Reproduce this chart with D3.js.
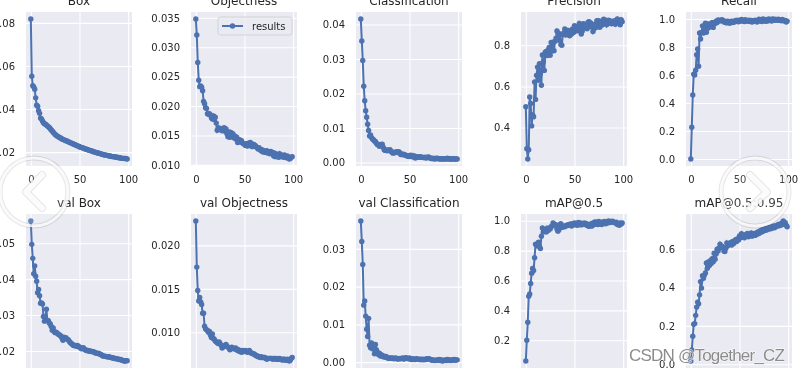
<!DOCTYPE html>
<html>
<head>
<meta charset="utf-8">
<script src="https://cdnjs.cloudflare.com/ajax/libs/d3/7.8.5/d3.min.js"></script>
<style>
    html, body { margin: 0; padding: 0; background: #fff; overflow: hidden; }
    svg { display: block; filter: blur(0.5px); }
    text { font-family: "DejaVu Sans", sans-serif; fill: #262626; }
</style>
</head>
<body>
<svg id="drawing_region" width="800" height="374"></svg>
<script>
const titles = ['Box', 'Objectness', 'Classification', 'Precision', 'Recall',
                'val Box', 'val Objectness', 'val Classification', 'mAP@0.5', 'mAP@0.5:0.95'];

const box = [
    .0818,.0552,.0508,.0503,.0492,.0452,.0418,.0413,.0392,.0380,
    .0358,.0354,.0345,.0336,.0332,.0330,.0326,.0322,.0318,.0314,
    .0309,.0303,.0298,.0292,.0287,.0282,.0278,.0275,.0272,.0269,
    .0267,.0264,.0261,.0259,.0257,.0255,.0253,.0252,.0250,.0247,
    .0245,.0243,.0241,.0239,.0237,.0235,.0233,.0231,.0229,.0227,
    .0225,.0223,.0222,.0220,.0218,.0217,.0215,.0213,.0212,.0210,
    .0209,.0207,.0206,.0204,.0203,.0201,.0200,.0198,.0197,.0196,
    .0195,.0193,.0192,.0190,.0189,.0188,.0187,.0186,.0185,.0184,
    .0183,.0182,.0181,.0180,.0179,.0179,.0178,.0177,.0176,.0175,
    .0175,.0174,.0173,.0172,.0171,.0171,.0170,.0171,.0169,.0168];

const objectness = [
    .0348,.0321,.0274,.0244,.0233,.0234,.0232,.0226,.0208,.0204,
    .0197,.0196,.0187,.0186,.0187,.0185,.0180,.0178,.0183,.0177,
    .0181,.0171,.0159,.0163,.0160,.0162,.0161,.0158,.0159,.0163,
    .0157,.0161,.0153,.0148,.0156,.0147,.0155,.0150,.0153,.0146,
    .0149,.0144,.0147,.0138,.0140,.0143,.0139,.0141,.0137,.0136,
    .0135,.0133,.0136,.0132,.0137,.0133,.0138,.0134,.0131,.0135,
    .0134,.0133,.0131,.0129,.0127,.0129,.0126,.0124,.0126,.0122,
    .0124,.0122,.0121,.0124,.0120,.0122,.0119,.0123,.0120,.0121,
    .0115,.0120,.0114,.0118,.0116,.0113,.0119,.0114,.0117,.0115,
    .0113,.0117,.0114,.0112,.0115,.0113,.0110,.0111,.0113,.0114];

const classification = [
    .0416,.0352,.0296,.0221,.0179,.0150,.0131,.0111,.0093,.0077,
    .0080,.0072,.0068,.0066,.0062,.0061,.0056,.0052,.0051,.0047,
    .0052,.0049,.0053,.0044,.0037,.0035,.0036,.0034,.0036,.0035,
    .0037,.0032,.0030,.0027,.0030,.0028,.0030,.0031,.0029,.0031,
    .0028,.0023,.0025,.0022,.0024,.0022,.0021,.0020,.0018,.0019,
    .0017,.0021,.0017,.0020,.0016,.0019,.0013,.0017,.0016,.0015,
    .0017,.0015,.0016,.0015,.0014,.0014,.0015,.0013,.0014,.0016,
    .0015,.0013,.0012,.0011,.0012,.0011,.0010,.0012,.0011,.0012,
    .0011,.0010,.0011,.0010,.0010,.0011,.0010,.0011,.0010,.0012,
    .0010,.0011,.0010,.0010,.0010,.0011,.0010,.0010,.0010,.0010];

const precision = [
    .501,.297,.247,.292,.549,.517,.408,.461,.453,.622,
    .537,.654,.694,.630,.710,.662,.606,.753,.720,.678,
    .766,.770,.750,.778,.790,.752,.814,.772,.815,.774,
    .820,.835,.870,.860,.825,.855,.804,.800,.852,.860,
    .879,.850,.873,.856,.870,.846,.872,.855,.880,.862,
    .895,.870,.885,.892,.870,.906,.895,.855,.870,.905,
    .903,.885,.898,.880,.912,.915,.890,.908,.892,.867,
    .880,.902,.887,.920,.895,.920,.888,.912,.898,.905,
    .927,.905,.922,.900,.915,.922,.908,.918,.905,.912,
    .910,.920,.902,.915,.928,.912,.918,.900,.925,.915];

const recall = [
    0,.227,.457,.606,.600,.634,.745,.786,.663,.900,
    .857,.904,.951,.900,.923,.970,.905,.965,.935,.960,
    .966,.950,.975,.940,.970,.968,.985,.975,.994,.990,
    .985,.992,.995,.990,.978,.985,.975,.972,.985,.976,
    .970,.978,.985,.975,.982,.978,.990,.985,.992,.980,
    .990,.985,.996,.985,.992,.982,.995,.985,.990,.984,
    .992,.982,.990,.978,.988,.985,.992,.984,.978,.990,
    .998,.985,.995,.982,1.0,.988,.996,.984,.992,.985,
    1.0,.990,.996,.986,1.0,.992,.998,.990,.996,.992,
    .998,.990,.994,.988,.996,.992,.985,.990,.978,.985];

const valBox = [
    .0562,.0497,.0458,.0415,.0437,.0408,.0394,.0362,.0371,.0354,
    .0333,.0334,.0331,.0296,.0283,.0295,.0316,.0285,.0284,.0278,
    .0275,.0268,.0258,.0264,.0254,.0251,.0252,.0250,.0247,.0245,
    .0244,.0241,.0236,.0230,.0238,.0236,.0237,.0233,.0232,.0229,
    .0225,.0222,.0220,.0217,.0215,.0216,.0214,.0213,.0215,.0212,
    .0211,.0209,.0206,.0208,.0209,.0205,.0203,.0201,.0202,.0200,
    .0200,.0199,.0199,.0198,.0198,.0197,.0195,.0194,.0194,.0193,
    .0193,.0191,.0190,.0188,.0186,.0186,.0185,.0185,.0184,.0184,
    .0184,.0183,.0182,.0181,.0181,.0180,.0179,.0179,.0178,.0178,
    .0177,.0176,.0176,.0175,.0174,.0173,.0172,.0172,.0173,.0173];

const valObjectness = [
    .0228,.0175,.0148,.0136,.0140,.0135,.0132,.0122,.0122,.0107,
    .0104,.0103,.0102,.0100,.0101,.0097,.0094,.0098,.0093,.0092,
    .0090,.0089,.0088,.0087,.0089,.0087,.0085,.0082,.0083,.0084,
    .0085,.0086,.0084,.0083,.0082,.0080,.0081,.0083,.0082,.0081,
    .0081,.0082,.0080,.0079,.0080,.0078,.0078,.0077,.0079,.0078,
    .0078,.0079,.0078,.0077,.0078,.0079,.0077,.0076,.0076,.0075,
    .0075,.0074,.0073,.0073,.0072,.0072,.0071,.0072,.0071,.0071,
    .0071,.0071,.0070,.0069,.0070,.0070,.0070,.0070,.0070,.0069,
    .0070,.0070,.0069,.0070,.0069,.0069,.0070,.0069,.0069,.0068,
    .0069,.0069,.0068,.0068,.0069,.0068,.0067,.0068,.0070,.0071];

const valClassification = [
    .0374,.0320,.0259,.0151,.0162,.0122,.0087,.0068,.0116,.0045,
    .0038,.0051,.0042,.0034,.0022,.0047,.0033,.0026,.0020,.0024,
    .0016,.0020,.0018,.0014,.0016,.0013,.0015,.0012,.0010,.0011,
    .0010,.0011,.0010,.0011,.0009,.0010,.0011,.0009,.0008,.0009,
    .0010,.0009,.0010,.0011,.0008,.0009,.0012,.0011,.0010,.0009,
    .0011,.0008,.0007,.0009,.0007,.0008,.0007,.0009,.0008,.0008,
    .0007,.0008,.0006,.0008,.0007,.0006,.0008,.0007,.0009,.0008,
    .0009,.0008,.0006,.0005,.0006,.0005,.0004,.0005,.0005,.0006,
    .0005,.0007,.0004,.0006,.0003,.0004,.0006,.0005,.0004,.0007,
    .0005,.0006,.0004,.0006,.0005,.0006,.0007,.0005,.0006,.0006];

const map50 = [
    .061,.200,.320,.494,.509,.580,.649,.680,.666,.752,
    .843,.838,.830,.856,.830,.814,.896,.951,.925,.935,
    .940,.925,.950,.935,.950,.945,.960,.965,.985,.975,
    .975,.970,.945,.930,.940,.975,.980,.955,.960,.965,
    .960,.965,.970,.968,.975,.970,.978,.965,.980,.975,
    .985,.972,.982,.970,.988,.975,.985,.972,.982,.978,
    .985,.975,.982,.968,.975,.962,.970,.980,.965,.985,
    .975,.992,.978,.990,.975,.995,.980,.988,.975,.992,
    .985,.995,.980,.992,.985,.998,.988,.995,.990,.996,
    .992,.988,.985,.990,.975,.982,.970,.985,.978,.985];

const map5095 = [
    .017,.074,.146,.209,.212,.255,.298,.324,.315,.362,
    .431,.397,.462,.448,.465,.476,.528,.500,.534,.515,
    .540,.525,.550,.535,.579,.548,.575,.600,.590,.605,
    .626,.610,.615,.609,.590,.588,.605,.632,.618,.625,
    .626,.635,.622,.640,.630,.643,.650,.640,.655,.648,
    .669,.660,.681,.665,.672,.660,.676,.670,.682,.665,
    .669,.675,.685,.668,.678,.681,.672,.685,.678,.690,
    .682,.695,.688,.700,.692,.703,.698,.708,.700,.706,
    .712,.705,.715,.708,.718,.720,.712,.722,.718,.725,
    .729,.722,.732,.726,.738,.747,.730,.738,.725,.717];

const series = [box, objectness, classification, precision, recall,
                valBox, valObjectness, valClassification, map50, map5095];

const yTicks = [
    ['0.02', '0.04', '0.06', '0.08'],
    ['0.010', '0.015', '0.020', '0.025', '0.030', '0.035'],
    ['0.00', '0.01', '0.02', '0.03', '0.04'],
    ['0.4', '0.6', '0.8'],
    ['0.0', '0.2', '0.4', '0.6', '0.8', '1.0'],
    ['0.02', '0.03', '0.04', '0.05'],
    ['0.010', '0.015', '0.020'],
    ['0.00', '0.01', '0.02', '0.03'],
    ['0.2', '0.4', '0.6', '0.8', '1.0'],
    ['0.0', '0.2', '0.4', '0.6']
];
const xTicks = [0, 50, 100];

// panel layout
const config = {
    colLeft: [26, 191, 356, 521, 686],
    rowTop: [12, 214],
    panelWidth: 106,
    panelHeight: 154
};

const svg = d3.select('#drawing_region');
const blue = '#4C72B0';

series.forEach((values, i) => {
    const col = i % 5, row = Math.floor(i / 5);
    const w = config.panelWidth, h = config.panelHeight;
    const g = svg.append('g')
        .attr('transform', `translate(${config.colLeft[col]},${config.rowTop[row]})`);

    // same 5% margins as matplotlib
    const [ymin, ymax] = d3.extent(values);
    const pad = (ymax - ymin) * 0.05;
    const xScale = d3.scaleLinear().domain([-4.95, 103.95]).range([0, w]);
    const yScale = d3.scaleLinear().domain([ymin - pad, ymax + pad]).range([h, 0]);

    g.append('rect').attr('width', w).attr('height', h).attr('fill', '#EAEAF2');

    const xAxis = g.append('g')
        .attr('transform', `translate(0,${h})`)
        .call(d3.axisBottom(xScale).tickValues(xTicks).tickFormat(d3.format('d'))
            .tickSize(-h).tickPadding(10));
    const yAxis = g.append('g')
        .call(d3.axisLeft(yScale).tickValues(yTicks[i].map(Number))
            .tickFormat((d, k) => yTicks[i][k]).tickSize(-w).tickPadding(11));

    [xAxis, yAxis].forEach(a => {
        a.select('.domain').remove();
        a.selectAll('line').attr('stroke', '#fff').attr('stroke-width', 1.1);
        a.selectAll('text').style('font-size', '10px').style('font-family', '"DejaVu Sans"').attr('fill', '#262626');
    });

    const line = d3.line().x((d, k) => xScale(k)).y(d => yScale(d));
    g.append('path')
        .attr('d', line(values))
        .attr('fill', 'none')
        .attr('stroke', blue)
        .attr('stroke-width', 2);
    g.selectAll('circle.pt')
        .data(values)
        .join('circle')
        .attr('class', 'pt')
        .attr('cx', (d, k) => xScale(k))
        .attr('cy', d => yScale(d))
        .attr('r', 2.7)
        .attr('fill', blue);

    g.append('text')
        .attr('x', w / 2)
        .attr('y', -7)
        .attr('text-anchor', 'middle')
        .style('font-size', '12px')
        .text(titles[i]);

    // legend only on the Objectness panel
    if (i === 1) {
        const legend = g.append('g').attr('transform', 'translate(27,5)');
        legend.append('rect')
            .attr('width', 74).attr('height', 18).attr('rx', 2.5)
            .attr('fill', '#EAEAF2').attr('fill-opacity', 0.8)
            .attr('stroke', '#CCCCCC').attr('stroke-width', 0.8);
        legend.append('line')
            .attr('x1', 4).attr('x2', 25).attr('y1', 9).attr('y2', 9)
            .attr('stroke', blue).attr('stroke-width', 2);
        legend.append('circle')
            .attr('cx', 14.5).attr('cy', 9).attr('r', 2.7).attr('fill', blue);
        legend.append('text')
            .attr('x', 34).attr('y', 12.5)
            .style('font-size', '10px')
            .text('results');
    }
});

// carousel arrows sitting on top of the screenshot, grey halo under the white so they show on white
const arrows = [
    { cx: 34, cy: 192, points: [[42, 175], [26, 192], [42, 208]] },
    { cx: 755, cy: 192, points: [[750, 175], [767, 192], [750, 208]] }
];
arrows.forEach(a => {
    svg.append('circle')
        .attr('cx', a.cx).attr('cy', a.cy).attr('r', 34)
        .attr('fill', '#fff').attr('fill-opacity', 0.15)
        .attr('stroke', '#000').attr('stroke-opacity', 0.1).attr('stroke-width', 5);
    svg.append('circle')
        .attr('cx', a.cx).attr('cy', a.cy).attr('r', 34)
        .attr('fill', 'none')
        .attr('stroke', '#fff').attr('stroke-opacity', 0.8).attr('stroke-width', 3);
    svg.append('path')
        .attr('d', d3.line()(a.points))
        .attr('fill', 'none')
        .attr('stroke', '#000').attr('stroke-opacity', 0.1)
        .attr('stroke-width', 8).attr('stroke-linecap', 'round').attr('stroke-linejoin', 'round');
    svg.append('path')
        .attr('d', d3.line()(a.points))
        .attr('fill', 'none')
        .attr('stroke', '#fff').attr('stroke-opacity', 0.85)
        .attr('stroke-width', 6).attr('stroke-linecap', 'round').attr('stroke-linejoin', 'round');
});

// watermark
svg.append('text')
    .attr('x', 629)
    .attr('y', 361)
    .attr('textLength', 156)
    .style('font-family', '"Liberation Sans", sans-serif')
    .style('font-size', '17px')
    .style('fill', '#808080')
    .style('fill-opacity', 0.9)
    .style('stroke', '#fff')
    .style('stroke-width', 0.8)
    .style('paint-order', 'stroke')
    .text('CSDN @Together_CZ');
</script>
</body>
</html>
